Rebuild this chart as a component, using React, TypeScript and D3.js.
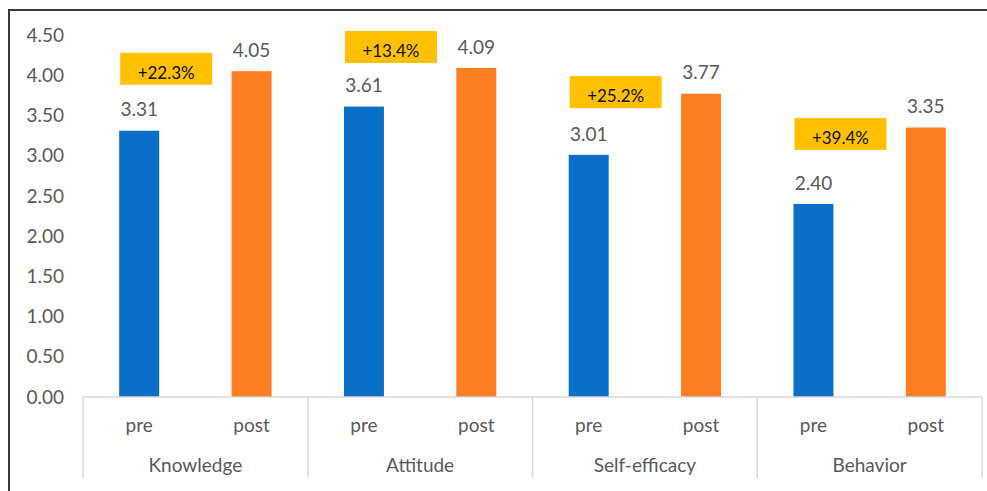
import React from "react";
import * as d3 from "d3";

const categories = ["Knowledge", "Attitude", "Self-efficacy", "Behavior"];
const phases = ["pre", "post"];
const preValues = [3.31, 3.61, 3.01, 2.4];
const postValues = [4.05, 4.09, 3.77, 3.35];
const gainLabels = ["+22.3%", "+13.4%", "+25.2%", "+39.4%"];
const gainBoxCenterValues = [4.08, 4.35, 3.79, 3.27];
const yTicks = [0, 0.5, 1, 1.5, 2, 2.5, 3, 3.5, 4, 4.5];

const W = 987;
const H = 491;
const FONT = "Lato, 'Open Sans', sans-serif";
const BLUE = "#0A6FC6";
const ORANGE = "#FD7E23";
const YELLOW = "#FFC000";
const GRAY = "#595959";
const AXIS = "#D9D9D9";

export default function App() {
  const y = d3.scaleLinear().domain([0, 4.5]).range([397, 35]);
  const x0 = d3.scaleBand().domain(categories).range([83, 982]).padding(0);
  const x1 = d3.scaleBand().domain(phases).range([0, x0.bandwidth()]).padding(0);
  const barW = 40;
  const fmt = d3.format(".2f");
  const boxW = 92;
  const boxH = 32;

  return (
    <svg
      width={W}
      height={H}
      style={{ position: "absolute", left: 0, top: 0, background: "#fff" }}
      fontFamily={FONT}
    >
      <rect x={0} y={0} width={W} height={H} fill="#fff" />
      {/* outer frame */}
      <path d={`M9,${H + 5} L9,10 L${W + 5},10`} fill="none" stroke="#3a3a3a" strokeWidth={2} />

      {/* y tick labels */}
      {yTicks.map((t) => (
        <text
          key={t}
          x={64}
          y={y(t)}
          dy="0.35em"
          textAnchor="end"
          fontSize={19}
          fill={GRAY}
        >
          {fmt(t)}
        </text>
      ))}

      {/* bars */}
      {categories.map((c, i) => {
        const vals = [preValues[i], postValues[i]];
        return (
          <g key={c}>
            {phases.map((p, j) => {
              const cx = (x0(c) as number) + (x1(p) as number) + x1.bandwidth() / 2;
              return (
                <g key={p}>
                  <rect
                    x={cx - barW / 2}
                    y={y(vals[j])}
                    width={barW}
                    height={y(0) - y(vals[j])}
                    fill={j === 0 ? BLUE : ORANGE}
                  />
                  <text
                    x={cx}
                    y={y(vals[j]) - 21}
                    dy="0.35em"
                    textAnchor="middle"
                    fontSize={19}
                    fill={GRAY}
                  >
                    {fmt(vals[j])}
                  </text>
                </g>
              );
            })}
          </g>
        );
      })}

      {/* gain boxes */}
      {categories.map((c, i) => {
        const left = (x0(c) as number) + (x1("pre") as number) + x1.bandwidth() / 2 - barW / 2 + 1;
        const cy = y(gainBoxCenterValues[i]);
        return (
          <g key={"g" + c}>
            <rect x={left} y={cy - boxH / 2} width={boxW} height={boxH} fill={YELLOW} />
            <text
              x={left + boxW / 2}
              y={cy + 4}
              dy="0.35em"
              textAnchor="middle"
              fontSize={17}
              fill="#111"
            >
              {gainLabels[i]}
            </text>
          </g>
        );
      })}

      {/* category axis */}
      <line x1={83} x2={982} y1={y(0)} y2={y(0)} stroke={AXIS} strokeWidth={1.5} />
      {[...categories.map((c) => x0(c) as number), 982].map((xv, k) => (
        <line key={"d" + k} x1={xv} x2={xv} y1={y(0)} y2={478} stroke={AXIS} strokeWidth={1.5} />
      ))}
      {categories.map((c) => (
        <g key={"l" + c}>
          {phases.map((p) => (
            <text
              key={p}
              x={(x0(c) as number) + (x1(p) as number) + x1.bandwidth() / 2}
              y={425}
              dy="0.35em"
              textAnchor="middle"
              fontSize={19}
              fill={GRAY}
            >
              {p}
            </text>
          ))}
          <text
            x={(x0(c) as number) + x0.bandwidth() / 2}
            y={465}
            dy="0.35em"
            textAnchor="middle"
            fontSize={19}
            fill={GRAY}
          >
            {c}
          </text>
        </g>
      ))}
    </svg>
  );
}
